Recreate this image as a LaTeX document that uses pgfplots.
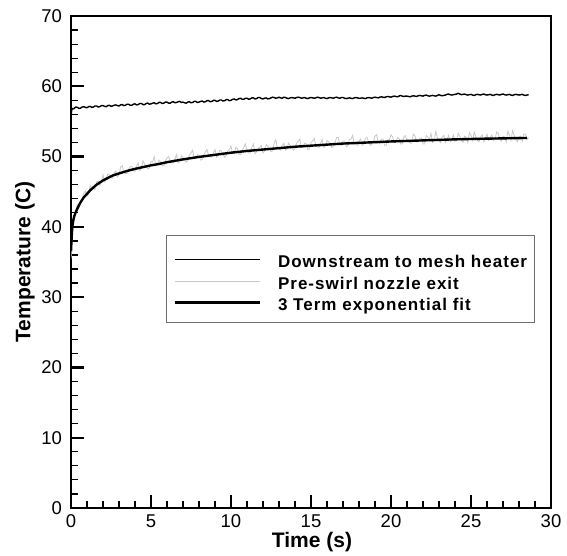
\documentclass[border=0pt]{standalone}
\usepackage{fontspec}
\setmainfont{Liberation Sans}
\newfontfamily\legfont[LetterSpace=6]{Liberation Sans}
\usepackage{pgfplots}
\pgfplotsset{compat=1.18}
\definecolor{lgray}{RGB}{200,200,200}
\definecolor{boxgray}{RGB}{110,110,110}
\begin{document}
\begin{tikzpicture}
\useasboundingbox (0pt,0pt) rectangle (567pt,556pt);
\begin{axis}[
  at={(71pt,48pt)}, anchor=south west,
  scale only axis, width=480pt, height=492pt,
  xmin=0, xmax=30, ymin=0, ymax=70,
  xtick={0,5,...,30}, ytick={0,10,...,70},
  minor x tick num=4, minor y tick num=4,
  tick pos=left, tick align=inside,
  major tick length=13pt, minor tick length=6.5pt,
  every major tick/.append style={line width=2.4pt, black},
  every minor tick/.append style={line width=1.2pt, black},
  line width=2.2pt,
  /pgf/number format/assume math mode=true,
  ticklabel style={font=\fontsize{18.5}{20}\selectfont, inner sep=0pt},
  xticklabel style={anchor=base, yshift=-20pt},
  yticklabel style={anchor=east, xshift=-8pt},
  xlabel={Time (s)}, ylabel={Temperature (C)},
  label style={font=\fontsize{21}{24}\bfseries, inner sep=0pt},
  xlabel style={at={(axis description cs:0.502,-0.0813)}, anchor=base},
  ylabel style={at={(axis description cs:-0.0844,0.5)}, anchor=base, rotate=0},
  legend style={at={(axis description cs:0.198,0.555)}, anchor=north west,
    draw=boxgray, line width=1.2pt, fill=white,
    inner xsep=7pt, inner ysep=8pt, row sep=5.2pt, column sep=17pt,
    nodes={inner sep=0pt, text height=12.3pt, text depth=4pt, font=\legfont\fontsize{17}{19}\bfseries}},
  legend cell align=left,
  legend image code/.code={\draw[#1] (0pt,4pt) -- (85pt,4pt);},
]
\addplot[black, line width=1.4pt, line join=round,
  legend image code/.code={\draw[black, line width=0.9pt] (0pt,4pt) -- (85pt,4pt); \path[draw=none, fill=none] (0pt,0pt) -- (0pt,20pt);}] coordinates {
(0,55.4) (0.05,56.9) (0.1,56.75) (0.2,56.85) (0.3,57.05) (0.4,57.0) (0.5,56.85) (0.6,56.9) (0.7,57.05) (0.8,57.1)
(0.9,57.0) (1.0,56.95) (1.1,57.1) (1.2,57.15) (1.3,57.0) (1.4,57.05) (1.5,57.2) (1.6,57.2) (1.7,57.05) (1.8,57.1)
(1.9,57.25) (2.0,57.25) (2.1,57.15) (2.2,57.1) (2.3,57.25) (2.4,57.3) (2.5,57.15) (2.6,57.2) (2.7,57.3) (2.8,57.35)
(2.9,57.25) (3.0,57.2) (3.1,57.35) (3.2,57.4) (3.3,57.25) (3.4,57.3) (3.5,57.45) (3.6,57.45) (3.7,57.3) (3.8,57.3)
(3.9,57.45) (4.0,57.5) (4.1,57.35) (4.2,57.4) (4.3,57.55) (4.4,57.55) (4.5,57.4) (4.6,57.4) (4.7,57.55) (4.8,57.6)
(4.9,57.45) (5.0,57.5) (5.1,57.6) (5.2,57.65) (5.3,57.5) (5.4,57.55) (5.5,57.7) (5.6,57.7) (5.7,57.55) (5.8,57.6)
(5.9,57.75) (6.0,57.75) (6.1,57.6) (6.2,57.6) (6.3,57.75) (6.4,57.8) (6.5,57.65) (6.6,57.7) (6.7,57.8) (6.8,57.85)
(6.9,57.7) (7.0,57.75) (7.1,57.65) (7.2,57.6) (7.3,57.75) (7.4,57.8) (7.5,57.65) (7.6,57.7) (7.7,57.85) (7.8,57.85)
(7.9,57.7) (8.0,57.75) (8.1,57.85) (8.2,57.9) (8.3,57.75) (8.4,57.8) (8.5,57.95) (8.6,57.95) (8.7,57.8) (8.8,57.85)
(8.9,58.0) (9.0,58.0) (9.1,57.85) (9.2,57.9) (9.3,58.05) (9.4,58.05) (9.5,57.9) (9.6,57.95) (9.7,58.1) (9.8,58.1)
(9.9,57.95) (10.0,58.0) (10.1,58.15) (10.2,58.2) (10.3,58.05) (10.4,58.1) (10.5,58.25) (10.6,58.3) (10.7,58.15) (10.8,58.15)
(10.9,58.3) (11.0,58.3) (11.1,58.15) (11.2,58.2) (11.3,58.35) (11.4,58.35) (11.5,58.2) (11.6,58.25) (11.7,58.4) (11.8,58.4)
(11.9,58.25) (12.0,58.2) (12.1,58.3) (12.2,58.35) (12.3,58.2) (12.4,58.25) (12.5,58.35) (12.6,58.45) (12.7,58.4) (12.8,58.3)
(12.9,58.35) (13.0,58.45) (13.1,58.35) (13.2,58.3) (13.3,58.45) (13.4,58.4) (13.5,58.3) (13.6,58.25) (13.7,58.35) (13.8,58.4)
(13.9,58.35) (14.0,58.3) (14.1,58.4) (14.2,58.45) (14.3,58.4) (14.4,58.3) (14.5,58.35) (14.6,58.4) (14.7,58.3) (14.8,58.25)
(14.9,58.35) (15.0,58.4) (15.1,58.35) (15.2,58.3) (15.3,58.35) (15.4,58.45) (15.5,58.4) (15.6,58.3) (15.7,58.35) (15.8,58.4)
(15.9,58.3) (16.0,58.25) (16.1,58.35) (16.2,58.4) (16.3,58.35) (16.4,58.3) (16.5,58.4) (16.6,58.45) (16.7,58.35) (16.8,58.3)
(16.9,58.4) (17.0,58.4) (17.1,58.3) (17.2,58.25) (17.3,58.3) (17.4,58.35) (17.5,58.3) (17.6,58.25) (17.7,58.35) (17.8,58.4)
(17.9,58.35) (18.0,58.3) (18.1,58.3) (18.2,58.35) (18.3,58.3) (18.4,58.25) (18.5,58.35) (18.6,58.4) (18.7,58.35) (18.8,58.3)
(18.9,58.4) (19.0,58.45) (19.1,58.4) (19.2,58.35) (19.3,58.45) (19.4,58.5) (19.5,58.45) (19.6,58.4) (19.7,58.5) (19.8,58.55)
(19.9,58.5) (20.0,58.45) (20.1,58.55) (20.2,58.6) (20.3,58.55) (20.4,58.5) (20.5,58.6) (20.6,58.7) (20.7,58.6) (20.8,58.55)
(20.9,58.6) (21.0,58.6) (21.1,58.55) (21.2,58.5) (21.3,58.6) (21.4,58.65) (21.5,58.6) (21.6,58.55) (21.7,58.65) (21.8,58.7)
(21.9,58.65) (22.0,58.6) (22.1,58.7) (22.2,58.75) (22.3,58.65) (22.4,58.6) (22.5,58.65) (22.6,58.7) (22.7,58.65) (22.8,58.6)
(22.9,58.7) (23.0,58.8) (23.1,58.7) (23.2,58.65) (23.3,58.7) (23.4,58.75) (23.5,58.85) (23.6,58.9) (23.7,58.8) (23.8,58.75)
(23.9,58.8) (24.0,58.85) (24.1,58.9) (24.2,59.0) (24.3,58.9) (24.4,58.8) (24.5,58.85) (24.6,58.9) (24.7,58.8) (24.8,58.75)
(24.9,58.8) (25.0,58.85) (25.1,58.75) (25.2,58.7) (25.3,58.8) (25.4,58.85) (25.5,58.8) (25.6,58.75) (25.7,58.85) (25.8,58.9)
(25.9,58.8) (26.0,58.75) (26.1,58.8) (26.2,58.85) (26.3,58.75) (26.4,58.7) (26.5,58.8) (26.6,58.85) (26.7,58.8) (26.8,58.75)
(26.9,58.85) (27.0,58.9) (27.1,58.8) (27.2,58.75) (27.3,58.8) (27.4,58.85) (27.5,58.75) (27.6,58.7) (27.7,58.8) (27.8,58.85)
(27.9,58.8) (28.0,58.75) (28.1,58.8) (28.2,58.85) (28.3,58.75) (28.4,58.7) (28.5,58.75) (28.6,58.8)
};
\addlegendentry{Downstream to mesh heater}
\addplot[lgray, line width=0.8pt] coordinates {
(0.0,35.5) (0.1,40.0) (0.2,41.2) (0.3,42.5) (0.4,43.1) (0.5,42.7) (0.6,43.3) (0.7,44.0) (0.8,44.8) (0.9,45.1)
(1.0,44.4) (1.1,44.6) (1.2,45.9) (1.3,45.5) (1.4,45.5) (1.5,45.3) (1.6,46.4) (1.7,46.5) (1.8,45.9) (1.9,46.4)
(2.0,47.4) (2.1,46.4) (2.2,46.9) (2.3,47.5) (2.4,47.4) (2.5,47.0) (2.6,46.9) (2.7,47.7) (2.8,48.0) (2.9,47.1)
(3.0,47.4) (3.1,48.5) (3.2,48.7) (3.3,47.8) (3.4,47.6) (3.5,47.6) (3.6,48.2) (3.7,48.6) (3.8,48.6) (3.9,48.0)
(4.0,47.9) (4.1,48.6) (4.2,49.1) (4.3,48.0) (4.4,48.4) (4.5,49.4) (4.6,48.9) (4.7,48.7) (4.8,48.2) (4.9,48.4)
(5.0,49.3) (5.1,49.2) (5.2,50.0) (5.3,48.7) (5.4,48.7) (5.5,49.5) (5.6,49.2) (5.7,48.7) (5.8,48.7) (5.9,49.4)
(6.0,49.8) (6.1,50.0) (6.2,49.4) (6.3,49.1) (6.4,49.1) (6.5,49.7) (6.6,50.3) (6.7,49.1) (6.8,49.4) (6.9,50.1)
(7.0,49.9) (7.1,49.6) (7.2,49.2) (7.3,49.4) (7.4,50.2) (7.5,50.5) (7.6,50.9) (7.7,49.7) (7.8,49.7) (7.9,50.3)
(8.0,50.2) (8.1,49.5) (8.2,49.6) (8.3,50.2) (8.4,50.7) (8.5,51.0) (8.6,50.1) (8.7,50.0) (8.8,49.9) (8.9,50.5)
(9.0,51.0) (9.1,49.9) (9.2,50.2) (9.3,50.9) (9.4,50.8) (9.5,50.4) (9.6,49.9) (9.7,50.2) (9.8,50.8) (9.9,51.0)
(10.0,51.5) (10.1,50.4) (10.2,50.4) (10.3,51.3) (10.4,51.1) (10.5,50.3) (10.6,50.3) (10.7,50.9) (10.8,51.3) (10.9,51.8)
(11.0,50.9) (11.1,50.5) (11.2,50.5) (11.3,51.3) (11.4,51.8) (11.5,50.4) (11.6,50.7) (11.7,51.2) (11.8,51.3) (11.9,51.6)
(12.0,50.5) (12.1,50.8) (12.2,51.7) (12.3,51.5) (12.4,51.2) (12.5,50.7) (12.6,50.8) (12.7,51.9) (12.8,52.4) (12.9,51.2)
(13.0,51.1) (13.1,50.9) (13.2,51.6) (13.3,51.9) (13.4,50.9) (13.5,51.1) (13.6,51.9) (13.7,51.6) (13.8,51.4) (13.9,50.9)
(14.0,51.1) (14.1,51.9) (14.2,52.2) (14.3,52.5) (14.4,51.3) (14.5,51.3) (14.6,51.9) (14.7,51.8) (14.8,51.0) (14.9,51.1)
(15.0,52.0) (15.1,52.2) (15.2,52.6) (15.3,51.6) (15.4,51.4) (15.5,51.3) (15.6,51.9) (15.7,52.4) (15.8,51.3) (15.9,51.5)
(16.0,52.3) (16.1,52.1) (16.2,51.8) (16.3,51.3) (16.4,51.5) (16.5,52.0) (16.6,52.7) (16.7,52.7) (16.8,51.7) (16.9,51.6)
(17.0,52.2) (17.1,52.2) (17.2,51.4) (17.3,51.5) (17.4,52.4) (17.5,52.5) (17.6,53.0) (17.7,51.9) (17.8,51.7) (17.9,51.6)
(18.0,52.2) (18.1,52.5) (18.2,51.6) (18.3,51.8) (18.4,52.6) (18.5,52.7) (18.6,52.0) (18.7,51.6) (18.8,51.7) (18.9,52.2)
(19.0,52.9) (19.1,53.1) (19.2,52.0) (19.3,51.8) (19.4,52.5) (19.5,52.5) (19.6,51.6) (19.7,51.6) (19.8,52.4) (19.9,52.4)
(20.0,53.1) (20.1,52.8) (20.2,52.0) (20.3,52.0) (20.4,52.7) (20.5,52.6) (20.6,51.8) (20.7,51.8) (20.8,52.8) (20.9,53.0)
(21.0,52.3) (21.1,52.2) (21.2,51.9) (21.3,51.9) (21.4,53.2) (21.5,52.9) (21.6,52.1) (21.7,52.1) (21.8,52.6) (21.9,52.6)
(22.0,51.8) (22.1,51.8) (22.2,53.0) (22.3,52.8) (22.4,52.4) (22.5,53.3) (22.6,52.0) (22.7,52.2) (22.8,53.6) (22.9,52.7)
(23.0,52.3) (23.1,52.0) (23.2,52.8) (23.3,53.0) (23.4,52.0) (23.5,52.4) (23.6,53.0) (23.7,52.1) (23.8,52.4) (23.9,53.1)
(24.0,52.2) (24.1,52.3) (24.2,53.3) (24.3,52.9) (24.4,52.3) (24.5,52.0) (24.6,52.9) (24.7,52.7) (24.8,52.0) (24.9,53.4)
(25.0,53.0) (25.1,52.3) (25.2,53.5) (25.3,52.8) (25.4,52.3) (25.5,52.1) (25.6,52.8) (25.7,53.1) (25.8,52.1) (25.9,52.5)
(26.0,53.2) (26.1,52.3) (26.2,52.7) (26.3,53.1) (26.4,52.3) (26.5,52.4) (26.6,53.5) (26.7,53.3) (26.8,52.5) (26.9,52.2)
(27.0,52.9) (27.1,52.8) (27.2,52.1) (27.3,53.6) (27.4,53.1) (27.5,52.3) (27.6,53.7) (27.7,53.0) (27.8,52.4) (27.9,52.1)
(28.0,52.8) (28.1,52.9) (28.2,52.2) (28.3,53.2) (28.4,53.2) (28.5,52.4) (28.6,52.7)
};
\addlegendentry{Pre-swirl nozzle exit}
\addplot[black, line width=2.4pt, line join=round] coordinates {
(0,36.5) (0.03,38.0) (0.06,39.2) (0.1,40.3) (0.15,41.0) (0.2,41.5) (0.3,42.1) (0.4,42.6) (0.5,43.1) (0.6,43.5)
(0.8,44.2) (1.0,44.7) (1.2,45.2) (1.4,45.6) (1.6,46.0) (1.8,46.3) (2.0,46.6) (2.3,46.95) (2.6,47.3) (3.0,47.6)
(3.5,47.95) (4.0,48.25) (4.5,48.5) (5,48.75) (5.5,48.95) (6,49.2) (7,49.6) (8,49.95) (9,50.25) (10,50.55)
(11,50.8) (12,51.0) (13,51.2) (14,51.4) (15,51.55) (16,51.7) (17,51.85) (18,51.95) (19,52.05) (20,52.15)
(22,52.3) (24,52.45) (26,52.55) (28.5,52.65)
};
\addlegendentry{3 Term exponential fit}
\end{axis}
\end{tikzpicture}
\end{document}
